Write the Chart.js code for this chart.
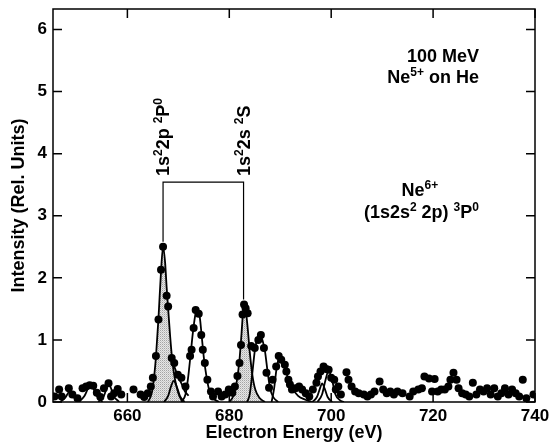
<!DOCTYPE html>
<html>
<head>
<meta charset="utf-8">
<script src="https://cdn.jsdelivr.net/npm/chart.js@4.4.1/dist/chart.umd.min.js"></script>
<style>
html, body { margin: 0; padding: 0; background: #fff; }
canvas { display: block; }
</style>
</head>
<body>
<canvas id="chart" width="552" height="446"></canvas>
<script>
////////////
//// Data

let energy = [
	645.7, 646.6, 647.1, 648.5, 649.2, 650.2, 651.2, 651.9, 652.6, 653.3,
	654.0, 654.7, 655.4, 656.3, 656.8, 657.4, 658.1, 658.8, 661.2, 662.6,
	663.3, 664.0, 664.6, 665.0, 665.6, 666.1, 666.6, 667.0, 667.7, 668.0,
	668.7, 669.2, 669.9, 670.6, 671.4, 672.3, 672.6, 673.0, 673.4, 674.0,
	674.5, 674.8, 675.2, 675.7, 676.4, 676.8, 677.8, 678.5, 679.2, 679.9,
	680.6, 681.1, 681.6, 682.0, 682.3, 682.6, 682.9, 683.2, 683.6, 684.3,
	685.0, 685.7, 686.2, 686.8, 687.3, 687.8, 688.5, 689.2, 689.7, 690.2,
	690.9, 691.2, 691.6, 691.9, 692.3, 693.0, 693.7, 694.3, 695.0, 695.7,
	696.4, 697.1, 697.4, 697.9, 698.5, 699.0, 699.5, 700.0, 700.6, 700.9,
	701.4, 701.9, 703.0, 703.4, 704.0, 704.7, 705.4, 706.4, 707.1, 707.8,
	708.5, 709.5, 710.2, 710.9, 711.6, 712.3, 713.0, 714.0, 715.4, 716.1,
	717.1, 717.8, 718.3, 719.2, 719.8, 720.3, 720.9, 721.6, 722.3, 723.0,
	723.4, 724.0, 724.6, 725.0, 725.7, 726.4, 727.1, 727.8, 728.5, 729.2,
	729.9, 730.6, 731.3, 732.0, 732.7, 733.4, 734.1, 734.8, 735.5, 736.2,
	736.9, 737.6, 738.3, 739.7
];
let intensity = [
	0.09, 0.20, 0.09, 0.22, 0.12, 0.06, 0.22, 0.25, 0.27, 0.26,
	0.15, 0.08, 0.22, 0.30, 0.09, 0.14, 0.21, 0.12, 0.20, 0.12,
	0.08, 0.14, 0.25, 0.39, 0.74, 1.33, 2.13, 2.50, 1.71, 1.54,
	0.71, 0.63, 0.44, 0.39, 0.25, 0.74, 0.84, 1.19, 1.48, 1.42,
	1.08, 0.84, 0.63, 0.36, 0.17, 0.09, 0.17, 0.09, 0.12, 0.20,
	0.15, 0.25, 0.42, 0.63, 0.92, 1.41, 1.57, 1.51, 1.43, 0.90,
	0.87, 1.00, 1.08, 0.87, 0.47, 0.23, 0.36, 0.57, 0.74, 0.68,
	0.60, 0.49, 0.36, 0.28, 0.20, 0.22, 0.25, 0.20, 0.14, 0.09,
	0.20, 0.31, 0.41, 0.49, 0.57, 0.53, 0.52, 0.39, 0.36, 0.20,
	0.25, 0.12, 0.48, 0.36, 0.25, 0.17, 0.14, 0.12, 0.09, 0.12,
	0.17, 0.33, 0.20, 0.14, 0.17, 0.12, 0.17, 0.14, 0.09, 0.17,
	0.20, 0.22, 0.41, 0.38, 0.17, 0.37, 0.17, 0.20, 0.20, 0.25,
	0.36, 0.47, 0.36, 0.22, 0.14, 0.12, 0.09, 0.31, 0.12, 0.20,
	0.17, 0.22, 0.12, 0.22, 0.09, 0.14, 0.22, 0.12, 0.20, 0.14,
	0.09, 0.36, 0.06, 0.12
];

let xTicks = [660, 680, 700, 720, 740];
let yTicks = [0, 1, 2, 3, 4, 5, 6];

// fitted peak lines
let peakS1E = [646.8, 647.8, 648.4, 648.7, 649.1, 649.7, 650.7];
let peakS1I = [0, 0.07, 0.15, 0.18, 0.15, 0.07, 0];
let peakS2E = [650.5, 651.6, 652.3, 652.8, 653.3, 654.0, 655.1];
let peakS2I = [0, 0.10, 0.22, 0.26, 0.22, 0.10, 0];
let peakS3E = [654.3, 655.4, 656.0, 656.3, 656.7, 657.3, 658.4];
let peakS3I = [0, 0.10, 0.24, 0.28, 0.24, 0.10, 0];
let peakAE = [664.0, 664.8, 665.3, 665.6, 666.1, 666.6, 667.0, 667.4, 667.7, 668.0, 668.4, 668.8, 669.3, 670.0, 670.8];
let peakAI = [0, 0.15, 0.45, 0.72, 1.35, 2.10, 2.50, 2.25, 1.85, 1.50, 1.05, 0.68, 0.38, 0.14, 0];
let peakBE = [667.2, 668.0, 668.6, 669.1, 669.6, 670.3, 671.2];
let peakBI = [0, 0.10, 0.26, 0.34, 0.27, 0.10, 0];
let tailE = [668.7, 669.3, 669.9, 670.6, 671.3, 672.0];
let tailI = [0.70, 0.55, 0.42, 0.30, 0.17, 0.10];
let peakCE = [670.6, 671.4, 671.9, 672.4, 672.9, 673.4, 673.8, 674.2, 674.6, 675.0, 675.5, 676.1, 677.0, 678.0];
let peakCI = [0, 0.12, 0.38, 0.76, 1.15, 1.43, 1.47, 1.37, 1.05, 0.72, 0.42, 0.18, 0.05, 0];
let peakDE = [680.0, 680.8, 681.5, 682.0, 682.4, 682.7, 682.9, 683.2, 683.6, 684.0, 684.5, 685.1, 686.0, 687.0];
let peakDI = [0, 0.10, 0.35, 0.68, 1.10, 1.45, 1.57, 1.50, 1.20, 0.82, 0.45, 0.20, 0.06, 0];
let peakEE = [683.5, 684.0, 684.5, 685.0, 685.5, 686.0, 686.5, 687.0, 687.5, 688.0, 688.7, 689.6];
let peakEI = [0, 0.12, 0.45, 0.82, 1.02, 1.08, 1.00, 0.82, 0.50, 0.22, 0.07, 0];
let peakFE = [688.3, 688.8, 689.3, 689.9, 690.5, 691.0, 691.6, 692.4, 693.5, 694.8, 696.2];
let peakFI = [0, 0.22, 0.55, 0.73, 0.66, 0.52, 0.37, 0.22, 0.10, 0.04, 0];
let peakGE = [696.3, 697.2, 697.8, 698.2, 698.7, 699.3, 700.2];
let peakGI = [0, 0.08, 0.22, 0.30, 0.22, 0.08, 0];
let peakHE = [697.3, 698.2, 698.9, 699.5, 700.1, 700.8, 701.7, 702.5];
let peakHI = [0, 0.12, 0.36, 0.50, 0.38, 0.13, 0.03, 0];

// [energies, intensities, shaded]
let curves = [
	[peakS1E, peakS1I, false],
	[peakS2E, peakS2I, false],
	[peakS3E, peakS3I, false],
	[peakAE, peakAI, true],
	[peakBE, peakBI, false],
	[tailE, tailI, false],
	[peakCE, peakCI, false],
	[peakDE, peakDI, true],
	[peakEE, peakEI, false],
	[peakFE, peakFI, false],
	[peakGE, peakGI, false],
	[peakHE, peakHI, false]
];

////////////
//// Drawing helpers

const FONT = '"Liberation Sans", Arial, sans-serif';
let canvas = document.getElementById("chart");
let ctx = canvas.getContext("2d");

function makeShade() {
	let c = document.createElement('canvas');
	c.width = 2; c.height = 2;
	let g = c.getContext('2d');
	g.fillStyle = '#e6e6e6';
	g.fillRect(0, 0, 2, 2);
	g.fillStyle = '#a4a4a4';
	g.fillRect(0, 0, 1, 1);
	g.fillStyle = '#c8c8c8';
	g.fillRect(1, 1, 1, 1);
	return ctx.createPattern(c, 'repeat');
}

// parts: [text, isSuperscript]
function setFont(c, sup) {
	c.font = sup ? 'bold 12px ' + FONT : 'bold 18px ' + FONT;
}
function richWidth(c, parts) {
	let w = 0;
	parts.forEach(p => {
		setFont(c, p[1]);
		w += c.measureText(p[0]).width;
	});
	return w;
}
function richText(c, parts, x, y) {
	let cx = x;
	parts.forEach(p => {
		setFont(c, p[1]);
		c.fillText(p[0], cx, p[1] ? y - 7 : y);
		cx += c.measureText(p[0]).width;
	});
}

let frame = {
	id: 'frame',
	afterDatasetsDraw(chart) {
		let c = chart.ctx, a = chart.chartArea;
		let x = chart.scales.x, y = chart.scales.y;
		c.save();
		c.strokeStyle = '#000';
		c.fillStyle = '#000';
		c.lineWidth = 1.5;
		c.strokeRect(a.left, a.top, a.right - a.left, a.bottom - a.top);

		// inward ticks on all four sides
		c.beginPath();
		xTicks.forEach(v => {
			let px = x.getPixelForValue(v);
			c.moveTo(px, a.bottom); c.lineTo(px, a.bottom - 9);
			c.moveTo(px, a.top); c.lineTo(px, a.top + 9);
		});
		yTicks.forEach(v => {
			let py = y.getPixelForValue(v);
			c.moveTo(a.left, py); c.lineTo(a.left + 9, py);
			c.moveTo(a.right, py); c.lineTo(a.right - 9, py);
		});
		c.stroke();

		// bracket joining the two Ne5+ lines
		c.lineWidth = 1.2;
		c.beginPath();
		c.moveTo(x.getPixelForValue(667.0), y.getPixelForValue(2.58));
		c.lineTo(x.getPixelForValue(667.0), y.getPixelForValue(3.54));
		c.lineTo(x.getPixelForValue(682.8), y.getPixelForValue(3.54));
		c.lineTo(x.getPixelForValue(682.8), y.getPixelForValue(1.65));
		c.stroke();

		c.textBaseline = 'alphabetic';
		c.textAlign = 'left';
		let rotated = [
			[667.0, [['1s', 0], ['2', 1], ['2p ', 0], ['2', 1], ['P', 0], ['0', 1]]],
			[682.8, [['1s', 0], ['2', 1], ['2s ', 0], ['2', 1], ['S', 0]]]
		];
		rotated.forEach(r => {
			c.save();
			c.translate(x.getPixelForValue(r[0]), y.getPixelForValue(3.64));
			c.rotate(-Math.PI / 2);
			richText(c, r[1], 0, 6);
			c.restore();
		});

		// right-hand labels
		let right = x.getPixelForValue(729.0);
		let l1 = [['100 MeV', 0]];
		let l2 = [['Ne', 0], ['5+', 1], [' on He', 0]];
		let l3 = [['(1s2s', 0], ['2', 1], [' 2p) ', 0], ['3', 1], ['P', 0], ['0', 1]];
		richText(c, l1, right - richWidth(c, l1), y.getPixelForValue(5.48));
		richText(c, l2, right - richWidth(c, l2), y.getPixelForValue(5.14));
		richText(c, [['Ne', 0], ['6+', 1]], x.getPixelForValue(713.8), y.getPixelForValue(3.31));
		richText(c, l3, right - richWidth(c, l3), y.getPixelForValue(2.97));
		c.restore();
	}
};

////////////
//// Chart

let shade = makeShade();
let datasets = [{
	data: energy.map((e, i) => ({x: e, y: intensity[i]})),
	pointRadius: 4,
	pointBackgroundColor: '#000',
	pointBorderWidth: 0,
	showLine: false,
	order: 0
}];
curves.forEach(cv => {
	datasets.push({
		data: cv[0].map((e, i) => ({x: e, y: cv[1][i]})),
		showLine: true,
		borderColor: '#000',
		borderWidth: 1.8,
		pointRadius: 0,
		cubicInterpolationMode: 'monotone',
		fill: cv[2] ? 'origin' : false,
		backgroundColor: cv[2] ? shade : 'transparent',
		order: cv[2] ? 2 : 1
	});
});

let tickFont = {family: FONT, weight: 'bold', size: 17};
let titleFont = {family: FONT, weight: 'bold', size: 18};

new Chart(ctx, {
	type: 'scatter',
	data: {datasets: datasets},
	options: {
		responsive: false,
		animation: false,
		devicePixelRatio: 1,
		layout: {padding: {left: 0, right: 17, top: 9, bottom: 0}},
		plugins: {legend: {display: false}, tooltip: {enabled: false}},
		scales: {
			x: {
				type: 'linear',
				min: 645.4,
				max: 740,
				grid: {display: false, drawTicks: false},
				border: {display: false},
				afterBuildTicks: s => { s.ticks = xTicks.map(v => ({value: v})); },
				afterFit: s => { s.height = 44; s.paddingLeft = 0; s.paddingRight = 0; },
				ticks: {color: '#000', font: tickFont, padding: 4, maxRotation: 0, autoSkip: false},
				title: {display: true, text: 'Electron Energy (eV)', color: '#000', font: titleFont, padding: {top: 0, bottom: 2}}
			},
			y: {
				type: 'linear',
				min: 0,
				max: 6.33,
				grid: {display: false, drawTicks: false},
				border: {display: false},
				afterBuildTicks: s => { s.ticks = yTicks.map(v => ({value: v})); },
				afterFit: s => { s.width = 53; s.paddingTop = 0; s.paddingBottom = 0; },
				ticks: {color: '#000', font: tickFont, padding: 6, autoSkip: false},
				title: {display: true, text: 'Intensity (Rel. Units)', color: '#000', font: titleFont, padding: {top: 8, bottom: 0}}
			}
		}
	},
	plugins: [frame]
});
</script>
</body>
</html>
